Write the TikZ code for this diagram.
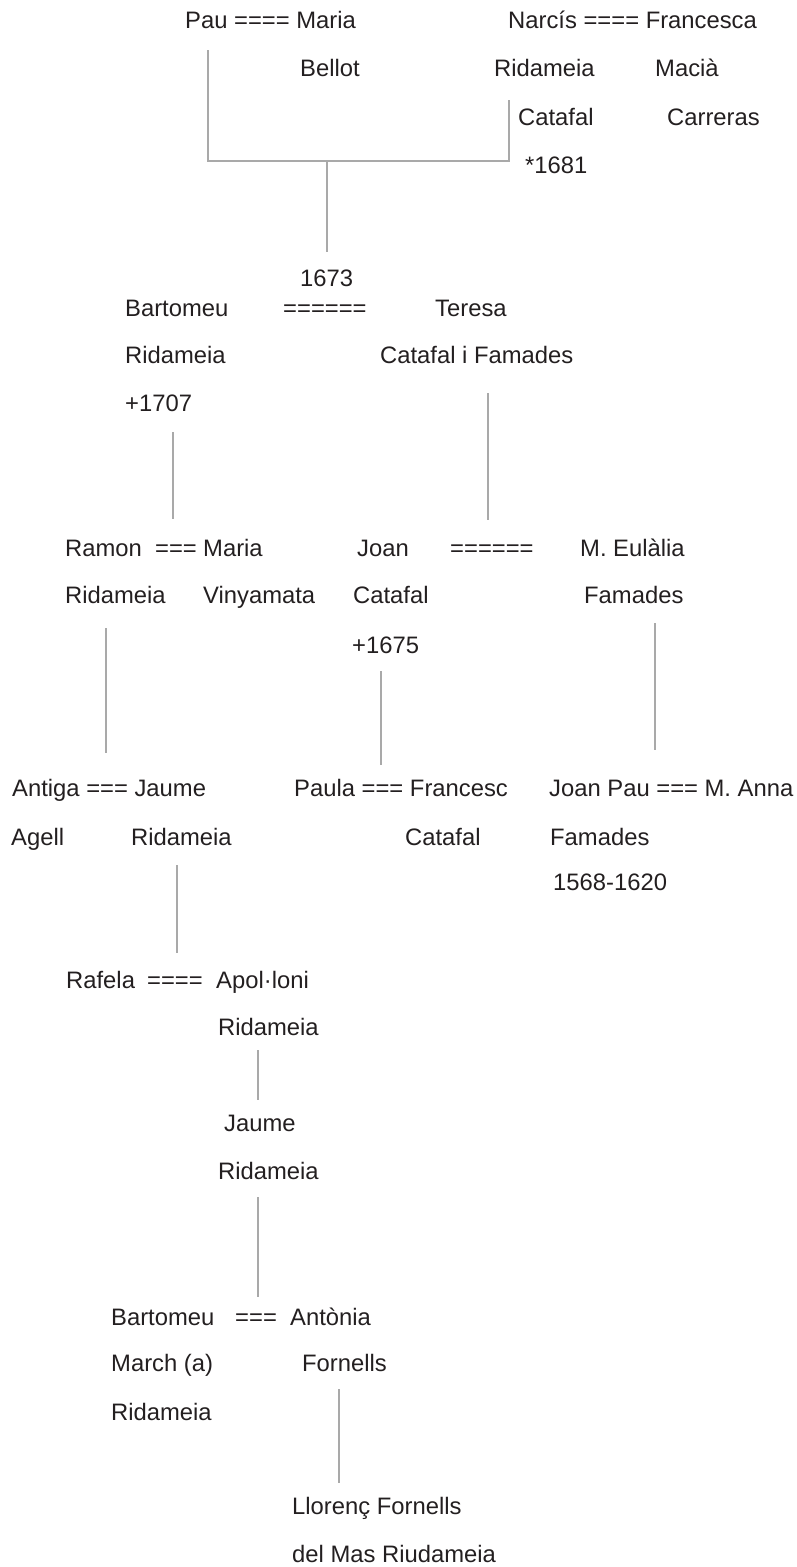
\documentclass[tikz,border=0pt]{standalone}
\usepackage{fontspec}
\setmainfont{Liberation Sans}
\usepackage{tikz}
\definecolor{linkgray}{HTML}{A9A9A9}
\definecolor{inkblack}{HTML}{231F20}
\tikzset{
  person/.style={anchor=base west, inner sep=0pt, text=inkblack, font=\fontsize{23.8}{28}\selectfont},
  link/.style={draw=linkgray, line width=2.6pt}
}

\begin{document}
\begin{tikzpicture}[x=1pt,y=-1pt]
		\useasboundingbox (0,0) rectangle (796,1567);
		%%%%% START %%%%%
		\node[person] (pau) at (185, 28) {Pau ==== Maria};
		\node[person] (narcis) at (508, 28) {Narcís ==== Francesca};
		\node[person] (bellot) at (300, 76) {Bellot};
		\node[person] (ridameiaA) at (494, 76) {Ridameia};
		\node[person] (macia) at (655, 76) {Macià};
		\node[person] (catafalA) at (518, 125) {Catafal};
		\node[person] (carreras) at (667, 125) {Carreras};
		\node[person] (b1681) at (525, 173) {*1681};
		
		\coordinate (pauTop) at (208, 50);
		\coordinate (pauLow) at (208, 161);
		\coordinate (narcisTop) at (509, 100);
		\coordinate (narcisLow) at (509, 161);
		\coordinate (stemTop) at (327, 161);
		\coordinate (stemLow) at (327, 252);
		\draw[link] (pauTop) -- (pauLow) -- (narcisLow) -- (narcisTop);
		\draw[link] (stemTop) -- (stemLow);
		
		\node[person] (m1673) at (300, 286) {1673};
		\node[person] (bartomeu) at (125, 316) {Bartomeu};
		\node[person] (eqB) at (283, 316) {======};
		\node[person] (teresa) at (435, 316) {Teresa};
		\node[person] (ridameiaB) at (125, 363) {Ridameia};
		\node[person] (catfam) at (380, 363) {Catafal i Famades};
		\node[person] (d1707) at (125, 411) {+1707};
		
		\coordinate (bartTop) at (173, 432);
		\coordinate (bartLow) at (173, 519);
		\coordinate (terTop) at (488, 393);
		\coordinate (terLow) at (488, 520);
		\draw[link] (bartTop) -- (bartLow);
		\draw[link] (terTop) -- (terLow);
		
		\node[person] (ramon) at (65, 556) {Ramon};
		\node[person] (eqC) at (155, 556) {===};
		\node[person] (maria) at (203, 556) {Maria};
		\node[person] (joan) at (357, 556) {Joan};
		\node[person] (eqD) at (450, 556) {======};
		\node[person] (eulalia) at (580, 556) {M. Eulàlia};
		\node[person] (ridameiaC) at (65, 603) {Ridameia};
		\node[person] (vinyamata) at (203, 603) {Vinyamata};
		\node[person] (catafalC) at (353, 603) {Catafal};
		\node[person] (famadesC) at (584, 603) {Famades};
		\node[person] (d1675) at (352, 653) {+1675};
		
		\coordinate (ramonTop) at (106, 628);
		\coordinate (ramonLow) at (106, 753);
		\coordinate (joanTop) at (381, 671);
		\coordinate (joanLow) at (381, 765);
		\coordinate (eulTop) at (655, 623);
		\coordinate (eulLow) at (655, 750);
		\draw[link] (ramonTop) -- (ramonLow);
		\draw[link] (joanTop) -- (joanLow);
		\draw[link] (eulTop) -- (eulLow);
		
		\node[person] (antiga) at (12, 796) {Antiga === Jaume};
		\node[person] (paula) at (294, 796) {Paula === Francesc};
		\node[person] (joanpau) at (549, 796) {Joan Pau === M. Anna};
		\node[person] (agell) at (11, 845) {Agell};
		\node[person] (ridameiaD) at (131, 845) {Ridameia};
		\node[person] (catafalD) at (405, 845) {Catafal};
		\node[person] (famadesD) at (550, 845) {Famades};
		\node[person] (d1568) at (553, 890) {1568-1620};
		
		\coordinate (jaumeTop) at (177, 865);
		\coordinate (jaumeLow) at (177, 953);
		\draw[link] (jaumeTop) -- (jaumeLow);
		
		\node[person] (rafela) at (66, 988) {Rafela};
		\node[person] (eqE) at (147, 988) {====};
		\node[person] (apolloni) at (216, 988) {Apol·loni};
		\node[person] (ridameiaE) at (218, 1035) {Ridameia};
		\node[person] (jaume) at (224, 1131) {Jaume};
		\node[person] (ridameiaF) at (218, 1179) {Ridameia};
		
		\coordinate (apolTop) at (258, 1050);
		\coordinate (apolLow) at (258, 1100);
		\coordinate (jaumeBTop) at (258, 1197);
		\coordinate (jaumeBLow) at (258, 1297);
		\draw[link] (apolTop) -- (apolLow);
		\draw[link] (jaumeBTop) -- (jaumeBLow);
		
		\node[person] (bartomeuG) at (111, 1325) {Bartomeu};
		\node[person] (eqG) at (235, 1325) {===};
		\node[person] (antonia) at (290, 1325) {Antònia};
		\node[person] (march) at (111, 1371) {March (a)};
		\node[person] (fornells) at (302, 1371) {Fornells};
		\node[person] (ridameiaG) at (111, 1420) {Ridameia};
		
		\coordinate (fornTop) at (339, 1389);
		\coordinate (fornLow) at (339, 1483);
		\draw[link] (fornTop) -- (fornLow);
		
		\node[person] (llorenc) at (292, 1514) {Llorenç Fornells};
		\node[person] (delmas) at (292, 1562) {del Mas Riudameia};
		%%%%% END %%%%%
	\end{tikzpicture}
\end{document}
